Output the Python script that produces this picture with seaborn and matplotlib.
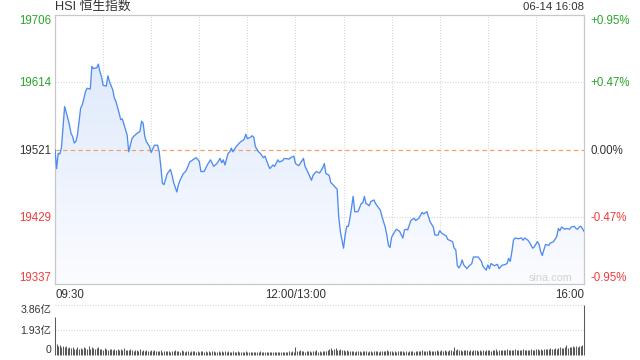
import numpy as np
import pandas as pd
import matplotlib
matplotlib.use("Agg")
import matplotlib.pyplot as plt
import seaborn as sns
from matplotlib.colors import LinearSegmentedColormap

# ---------------- data ----------------
title = "HSI 恒生指数"
stamp = "06-14 16:08"
watermark = "sina.com"
prev_close = 19521
y_ticks = [19706, 19614, 19521, 19429, 19337]
y_tick_labels = ["19706", "19614", "19521", "19429", "19337"]
pct_labels = ["+0.95%", "+0.47%", "0.00%", "-0.47%", "-0.95%"]
x_tick_minutes = [0, 150, 330]
x_tick_labels = ["09:30", "12:00/13:00", "16:00"]

price_minutes = [
    0, 1, 2, 3, 4, 6, 8, 9, 10, 11, 12, 13, 14, 16, 17, 19, 20, 22, 23, 24,
    26, 27, 28, 29, 30, 32, 33, 34, 36, 37, 38, 40, 41, 42, 44, 45, 46, 47, 48, 49,
    51, 53, 54, 55, 56, 57, 59, 60, 62, 64, 65, 66, 67, 68, 70, 72, 73, 74, 76, 77,
    78, 80, 81, 82, 84, 86, 88, 90, 91, 93, 95, 97, 99, 101, 103, 104, 105, 106, 108, 109,
    110, 111, 113, 115, 116, 118, 119, 120, 122, 123, 124, 125, 127, 128, 130, 131, 133, 134, 136, 137,
    139, 140, 142, 143, 146, 147, 149, 150, 152, 153, 155, 156, 158, 160, 161, 163, 165, 167, 168, 169,
    171, 172, 173, 175, 176, 177, 178, 180, 181, 182, 183, 184, 186, 187, 189, 191, 192, 193, 194, 195,
    196, 197, 199, 200, 201, 203, 204, 206, 207, 208, 209, 210, 212, 213, 215, 217, 218, 219, 220, 222,
    224, 225, 227, 228, 229, 230, 232, 233, 234, 236, 237, 239, 240, 241, 243, 244, 245, 246, 248, 249,
    250, 251, 252, 253, 254, 255, 257, 258, 260, 261, 263, 264, 266, 267, 269, 270, 271, 272, 274, 276,
    277, 279, 280, 282, 283, 284, 285, 286, 287, 289, 291, 292, 293, 295, 296, 298, 299, 301, 302, 303,
    304, 305, 306, 308, 309, 311, 313, 314, 315, 316, 318, 319, 321, 322, 324, 325, 326, 327, 328, 329,
    330,
]
price_values = [
    19521, 19495, 19516, 19515, 19523, 19580, 19564, 19555, 19543, 19539, 19530, 19532, 19541, 19578, 19582, 19600, 19605, 19604, 19635, 19632,
    19633, 19638, 19628, 19621, 19609, 19608, 19622, 19614, 19603, 19592, 19587, 19571, 19562, 19563, 19548, 19541, 19518, 19527, 19536, 19539,
    19543, 19546, 19560, 19557, 19539, 19532, 19525, 19517, 19527, 19527, 19518, 19498, 19475, 19473, 19488, 19494, 19486, 19476, 19463, 19473,
    19479, 19488, 19490, 19493, 19504, 19507, 19510, 19505, 19491, 19491, 19500, 19507, 19498, 19502, 19509, 19503, 19507, 19500, 19516, 19518,
    19523, 19518, 19525, 19530, 19532, 19535, 19542, 19536, 19538, 19540, 19538, 19525, 19518, 19516, 19510, 19512, 19500, 19495, 19500, 19498,
    19507, 19504, 19506, 19509, 19508, 19510, 19512, 19502, 19499, 19502, 19509, 19498, 19489, 19479, 19486, 19491, 19489, 19496, 19502, 19488,
    19486, 19476, 19474, 19469, 19467, 19429, 19409, 19386, 19404, 19416, 19416, 19427, 19457, 19436, 19436, 19447, 19448, 19457, 19447, 19446,
    19444, 19450, 19452, 19447, 19444, 19438, 19429, 19415, 19404, 19390, 19387, 19401, 19409, 19412, 19409, 19400, 19411, 19412, 19411, 19424,
    19427, 19424, 19427, 19431, 19435, 19433, 19436, 19429, 19422, 19415, 19404, 19404, 19410, 19407, 19404, 19403, 19398, 19397, 19395, 19386,
    19384, 19362, 19359, 19363, 19370, 19363, 19358, 19361, 19365, 19374, 19374, 19374, 19368, 19361, 19356, 19363, 19358, 19365, 19362, 19364,
    19358, 19363, 19363, 19365, 19372, 19368, 19381, 19397, 19400, 19399, 19400, 19397, 19400, 19397, 19394, 19386, 19388, 19395, 19391, 19381,
    19376, 19384, 19391, 19390, 19393, 19395, 19402, 19413, 19410, 19415, 19412, 19413, 19412, 19415, 19416, 19413, 19412, 19415, 19416, 19413,
    19409,
]

vol_ticks = [0, 1.93, 3.86]
vol_tick_labels = ["0", "1.93亿", "3.86亿"]
volume = [
    2.90, 0.85, 0.70, 0.78, 0.62, 0.66, 0.58, 0.72, 0.55, 0.60,
    0.52, 0.63, 0.50, 0.47, 0.58, 0.49, 0.55, 0.46, 0.60, 0.52,
    0.48, 0.66, 0.50, 0.62, 0.55, 0.47, 0.52, 0.58, 0.44, 0.50,
    0.42, 0.53, 0.46, 0.40, 0.49, 0.44, 0.38, 0.47, 0.41, 0.45,
    0.36, 0.48, 0.40, 0.52, 0.38, 0.42, 0.35, 0.44, 0.37, 0.33,
    0.40, 0.36, 0.31, 0.45, 0.34, 0.38, 0.30, 0.36, 0.33, 0.29,
    0.35, 0.31, 0.38, 0.28, 0.33, 0.30, 0.36, 0.27, 0.32, 0.29,
    0.34, 0.30, 0.26, 0.33, 0.29, 0.37, 0.28, 0.31, 0.27, 0.35,
    0.30, 0.26, 0.32, 0.28, 0.25, 0.31, 0.29, 0.34, 0.27, 0.30,
    0.26, 0.33, 0.28, 0.24, 0.30, 0.27, 0.31, 0.25, 0.29, 0.32,
    0.27, 0.24, 0.30, 0.26, 0.28, 0.23, 0.29, 0.25, 0.31, 0.27,
    0.24, 0.28, 0.22, 0.26, 0.30, 0.25, 0.23, 0.27, 0.24, 0.29,
    0.22, 0.26, 0.24, 0.21, 0.27, 0.23, 0.25, 0.22, 0.28, 0.24,
    0.21, 0.25, 0.23, 0.27, 0.22, 0.24, 0.20, 0.26, 0.23, 0.25,
    0.22, 0.24, 0.21, 0.26, 0.23, 0.25, 0.28, 0.24, 0.30, 0.27,
    0.62, 0.34, 0.30, 0.36, 0.28, 0.32, 0.27, 0.33, 0.29, 0.31,
    0.26, 0.30, 0.28, 0.35, 0.27, 0.31, 0.25, 0.29, 0.33, 0.28,
    0.40, 0.45, 0.52, 0.38, 0.47, 0.55, 0.42, 0.36, 0.48, 0.40,
    0.35, 0.30, 0.37, 0.32, 0.28, 0.34, 0.30, 0.27, 0.33, 0.29,
    0.31, 0.26, 0.30, 0.28, 0.33, 0.27, 0.29, 0.32, 0.26, 0.30,
    0.28, 0.31, 0.27, 0.34, 0.29, 0.33, 0.30, 0.36, 0.31, 0.28,
    0.32, 0.27, 0.30, 0.26, 0.31, 0.28, 0.33, 0.29, 0.27, 0.30,
    0.26, 0.31, 0.28, 0.32, 0.27, 0.30, 0.34, 0.29, 0.31, 0.36,
    0.30, 0.33, 0.28, 0.35, 0.31, 0.29, 0.34, 0.30, 0.37, 0.32,
    0.29, 0.35, 0.31, 0.38, 0.33, 0.30, 0.36, 0.40, 0.34, 0.62,
    0.38, 0.45, 0.35, 0.41, 0.33, 0.39, 0.36, 0.42, 0.34, 0.37,
    0.32, 0.38, 0.35, 0.40, 0.33, 0.36, 0.31, 0.39, 0.34, 0.37,
    0.35, 0.41, 0.33, 0.38, 0.36, 0.43, 0.34, 0.39, 0.37, 0.35,
    0.40, 0.36, 0.44, 0.38, 0.35, 0.42, 0.37, 0.48, 0.39, 0.36,
    0.41, 0.38, 0.45, 0.37, 0.42, 0.39, 0.36, 0.44, 0.40, 0.38,
    0.43, 0.46, 0.39, 0.48, 0.42, 0.45, 0.50, 0.44, 0.47, 0.52,
    0.46, 0.50, 0.55, 0.48, 0.53, 0.58, 0.51, 0.56, 0.60, 0.78,
    0.55, 0.62, 0.58, 0.66, 0.60, 0.70, 0.64, 0.72, 0.68, 0.75,
    3.86,
]

# ---------------- style ----------------
sns.set_theme(style="white")
FONT = ["Liberation Sans", "Noto Sans CJK SC", "DejaVu Sans"]
plt.rcParams["font.family"] = FONT

GREEN = "#2aa52a"
RED = "#f03c3c"
DARK = "#333333"
GRID = "#cfcfcf"
SPINE = "#c8c8c8"
LINE = "#4f8cf0"
DOT = (0, (0.8, 1.6))

price_df = pd.DataFrame({"minute": price_minutes, "price": price_values})
vol_df = pd.DataFrame({"minute": np.arange(len(volume)), "volume": volume})

fig = plt.figure(figsize=(6.4, 3.6), dpi=100)
ax = fig.add_axes([55 / 640, 1 - 284 / 360, 529 / 640, 269.5 / 360])
axv = fig.add_axes([55 / 640, 1 - 355 / 360, 529 / 640, 50 / 360])

xmax = len(volume) - 1
ymin, ymax = y_ticks[-1], y_ticks[0]

# gradient fill under the line
fb = ax.fill_between(price_df["minute"], price_df["price"], ymin,
                     facecolor="none", edgecolor="none")
cmap = LinearSegmentedColormap.from_list("g", ["#fbfcff", "#d9e6fb"])
grad = np.linspace(0, 1, 256).reshape(-1, 1)
im = ax.imshow(grad, extent=[0, xmax, ymin, ymax], origin="lower",
               aspect="auto", cmap=cmap, zorder=1, interpolation="bilinear")
im.set_clip_path(fb.get_paths()[0], transform=ax.transData)

# grid
for m in range(30, xmax, 30):
    ax.axvline(m, color=GRID, lw=0.8, ls=DOT, zorder=0.5)
for v in y_ticks[1:-1]:
    if v != prev_close:
        ax.axhline(v, color=GRID, lw=0.8, ls=DOT, zorder=0.5)
ax.axhline(prev_close, color="#f2a06a", lw=0.9, ls=(0, (3.5, 2.6)), zorder=2)

sns.lineplot(data=price_df, x="minute", y="price", ax=ax, color=LINE,
             linewidth=0.95, zorder=3)

ax.set_xlim(0, xmax)
ax.set_ylim(ymin, ymax)
ax.set_xlabel("")
ax.set_ylabel("")
for s in ax.spines.values():
    s.set_color(SPINE)
    s.set_linewidth(0.9)

ax.set_yticks(y_ticks)
ax.set_yticklabels(y_tick_labels)
ax.tick_params(axis="y", length=0, pad=2.5, labelsize=8.3)
ax.tick_params(axis="x", length=0, pad=3.5, labelsize=8.3, labelcolor=DARK)
ax.set_xticks(x_tick_minutes)
ax.set_xticklabels(x_tick_labels)
xl = ax.get_xticklabels()
xl[0].set_ha("left")
xl[-1].set_ha("right")

def col(v):
    if v > prev_close:
        return GREEN
    if v < prev_close:
        return RED
    return DARK

ylabs = ax.get_yticklabels()
for lab, v in zip(ylabs, y_ticks):
    lab.set_color(col(v))
ylabs[0].set_va("top")
ylabs[-1].set_va("bottom")

axr = ax.twinx()
axr.set_ylim(ymin, ymax)
axr.set_yticks(y_ticks)
axr.set_yticklabels(pct_labels)
axr.tick_params(axis="y", length=0, pad=4.5, labelsize=8.3)
for s in axr.spines.values():
    s.set_visible(False)
rlabs = axr.get_yticklabels()
for lab, v in zip(rlabs, y_ticks):
    lab.set_color(col(v))
rlabs[0].set_va("top")
rlabs[-1].set_va("bottom")
axr.grid(False)

ax.text(0.979, 0.004, watermark, transform=ax.transAxes, ha="right",
        va="bottom", fontsize=7.8, color="#d2d2d2")

# volume panel
axv.vlines(vol_df["minute"], 0, vol_df["volume"], colors="#5a5a5a",
           linewidth=0.75, clip_on=False)
axv.set_xlim(0, xmax)
axv.set_ylim(0, vol_ticks[-1])
for v in vol_ticks[1:]:
    axv.axhline(v, color=GRID, lw=0.8, ls=DOT, zorder=0)
axv.set_yticks(vol_ticks)
axv.set_yticklabels(vol_tick_labels)
axv.set_xticks([])
axv.tick_params(axis="y", length=0, pad=2.5, labelsize=7.6, labelcolor=DARK)
vl = axv.get_yticklabels()
vl[0].set_va("bottom")
vl[-1].set_va("top")
for s in axv.spines.values():
    s.set_visible(False)
axv.grid(False)

fig.text(55 / 640, 1 - 7 / 360, title, ha="left", va="center",
         fontsize=9.2, color=DARK)
fig.text(584 / 640, 1 - 7 / 360, stamp, ha="right", va="center",
         fontsize=8.2, color=DARK)

fig.savefig("out.png", dpi=100, facecolor="white")
